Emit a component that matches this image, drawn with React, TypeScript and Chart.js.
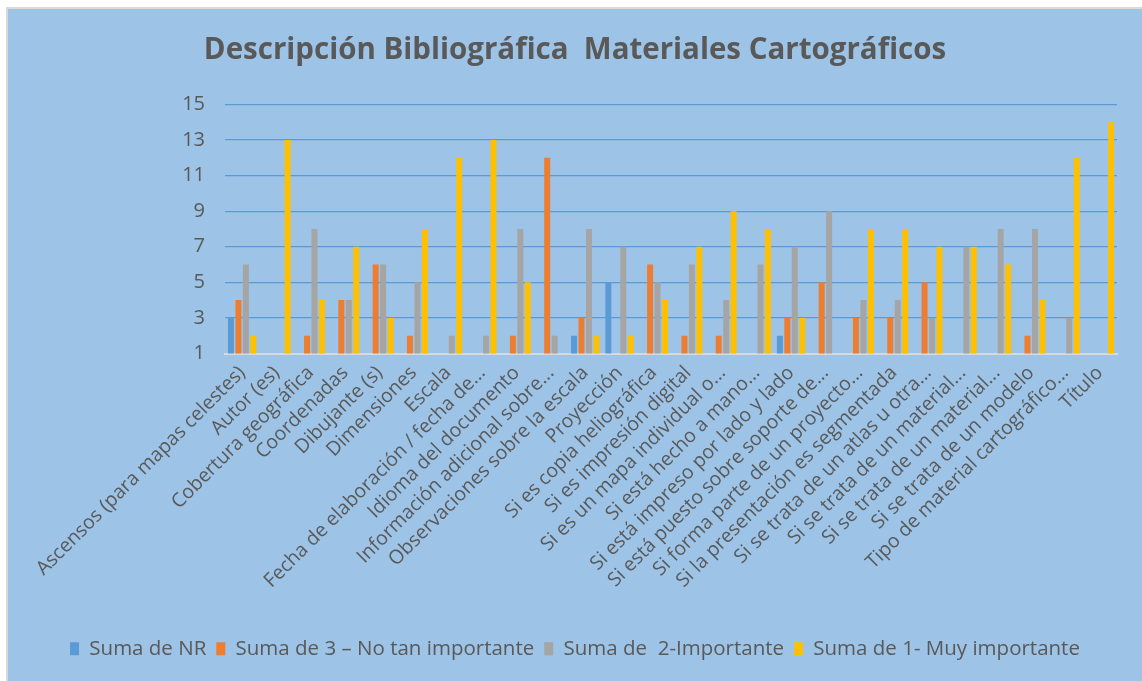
import React, { useEffect, useRef } from "react";
import { Chart, registerables } from "chart.js";

Chart.register(...registerables);

const chartTitle = "Descripción Bibliográfica  Materiales Cartográficos";

const categories = [
  "Ascensos (para mapas celestes)",
  "Autor (es)",
  "Cobertura geográfica",
  "Coordenadas",
  "Dibujante (s)",
  "Dimensiones",
  "Escala",
  "Fecha de elaboración / fecha de...",
  "Idioma del documento",
  "Información adicional sobre...",
  "Observaciones sobre la escala",
  "Proyección",
  "Si es copia heliográfica",
  "Si es impresión digital",
  "Si es un mapa individual o...",
  "Si está hecho a mano...",
  "Si está impreso por lado y lado",
  "Si está puesto sobre soporte de...",
  "Si forma parte de un proyecto...",
  "Si la presentación es segmentada",
  "Si se trata de un atlas u otra...",
  "Si se trata de un material...",
  "Si se trata de un material...",
  "Si se trata de un modelo",
  "Tipo de material cartográfico...",
  "Título",
];

const seriesNames = [
  "Suma de NR",
  "Suma de 3 – No tan importante",
  "Suma de  2-Importante",
  "Suma de 1- Muy importante",
];

const sumaNR = [3, null, null, null, null, null, null, null, null, null, 2, 5, null, null, null, null, 2, null, null, null, null, null, null, null, null, null];
const suma3 = [4, null, 2, 4, 6, 2, null, null, 2, 12, 3, null, 6, 2, 2, null, 3, 5, 3, 3, 5, null, null, 2, null, null];
const suma2 = [6, null, 8, 4, 6, 5, 2, 2, 8, 2, 8, 7, 5, 6, 4, 6, 7, 9, 4, 4, 3, 7, 8, 8, 3, null];
const suma1 = [2, 13, 4, 7, 3, 8, 12, 13, 5, null, 2, 2, 4, 7, 9, 8, 3, null, 8, 8, 7, 7, 6, 4, 12, 14];

const seriesColors = ["#5B9BD5", "#ED7D31", "#A5A5A5", "#FFC000"];

const yMin = 1;
const yMax = 15;
const yStep = 2;

export default function App() {
  const ref = useRef<HTMLCanvasElement>(null);

  useEffect(() => {
    const canvas = ref.current;
    if (!canvas) return;
    const values = [sumaNR, suma3, suma2, suma1];
    const chart = new Chart(canvas, {
      type: "bar",
      data: {
        labels: categories,
        datasets: values.map((v, i) => ({
          label: seriesNames[i],
          data: v,
          backgroundColor: seriesColors[i],
          borderWidth: 0,
          barPercentage: 0.8,
          categoryPercentage: 0.87,
        })),
      },
      options: {
        responsive: false,
        animation: false,
        layout: { padding: { left: 25, right: 25, top: 0, bottom: 12 } },
        plugins: {
          title: {
            display: true,
            text: chartTitle,
            color: "#595959",
            font: { family: "'Open Sans', sans-serif", size: 29.5, weight: "bold" },
            padding: { top: 24, bottom: 36 },
          },
          legend: {
            position: "bottom",
            labels: {
              color: "#595959",
              font: { family: "'Open Sans', sans-serif", size: 20.5 },
              boxWidth: 9,
              boxHeight: 13,
              padding: 10,
            },
          },
          tooltip: { enabled: false },
        },
        scales: {
          x: {
            grid: { display: false, drawTicks: false },
            border: { display: true, color: "#D9D9D9", width: 2 },
            ticks: {
              autoSkip: false,
              minRotation: 45,
              maxRotation: 45,
              padding: 8,
              color: "#595959",
              font: { family: "'Open Sans', sans-serif", size: 19.5 },
            },
            afterFit: (scale: any) => {
              scale.height = 275;
            },
          },
          y: {
            min: yMin,
            max: yMax,
            grid: {
              drawTicks: false,
              color: (ctx: any) => (ctx.tick && ctx.tick.value === yMin ? "rgba(0,0,0,0)" : "#5B9BD5"),
              lineWidth: 1.3,
            },
            border: { display: false },
            ticks: {
              stepSize: yStep,
              padding: 20,
              color: "#595959",
              font: { family: "'Open Sans', sans-serif", size: 20 },
            },
            afterFit: (scale: any) => {
              scale.width = 192;
            },
          },
        },
      },
    });
    return () => chart.destroy();
  }, []);

  return (
    <div style={{ position: "absolute", left: 0, top: 0, width: 1142, height: 681, background: "#ffffff", overflow: "hidden" }}>
      <div
        style={{
          position: "absolute",
          left: 6,
          top: 7,
          width: 1136,
          height: 674,
          background: "#9DC3E6",
          borderLeft: "2px solid #D9D9D9",
          borderTop: "2px solid #D9D9D9",
          boxSizing: "border-box",
        }}
      >
        <canvas ref={ref} width={1134} height={672} style={{ display: "block", width: 1134, height: 672 }} />
      </div>
    </div>
  );
}
